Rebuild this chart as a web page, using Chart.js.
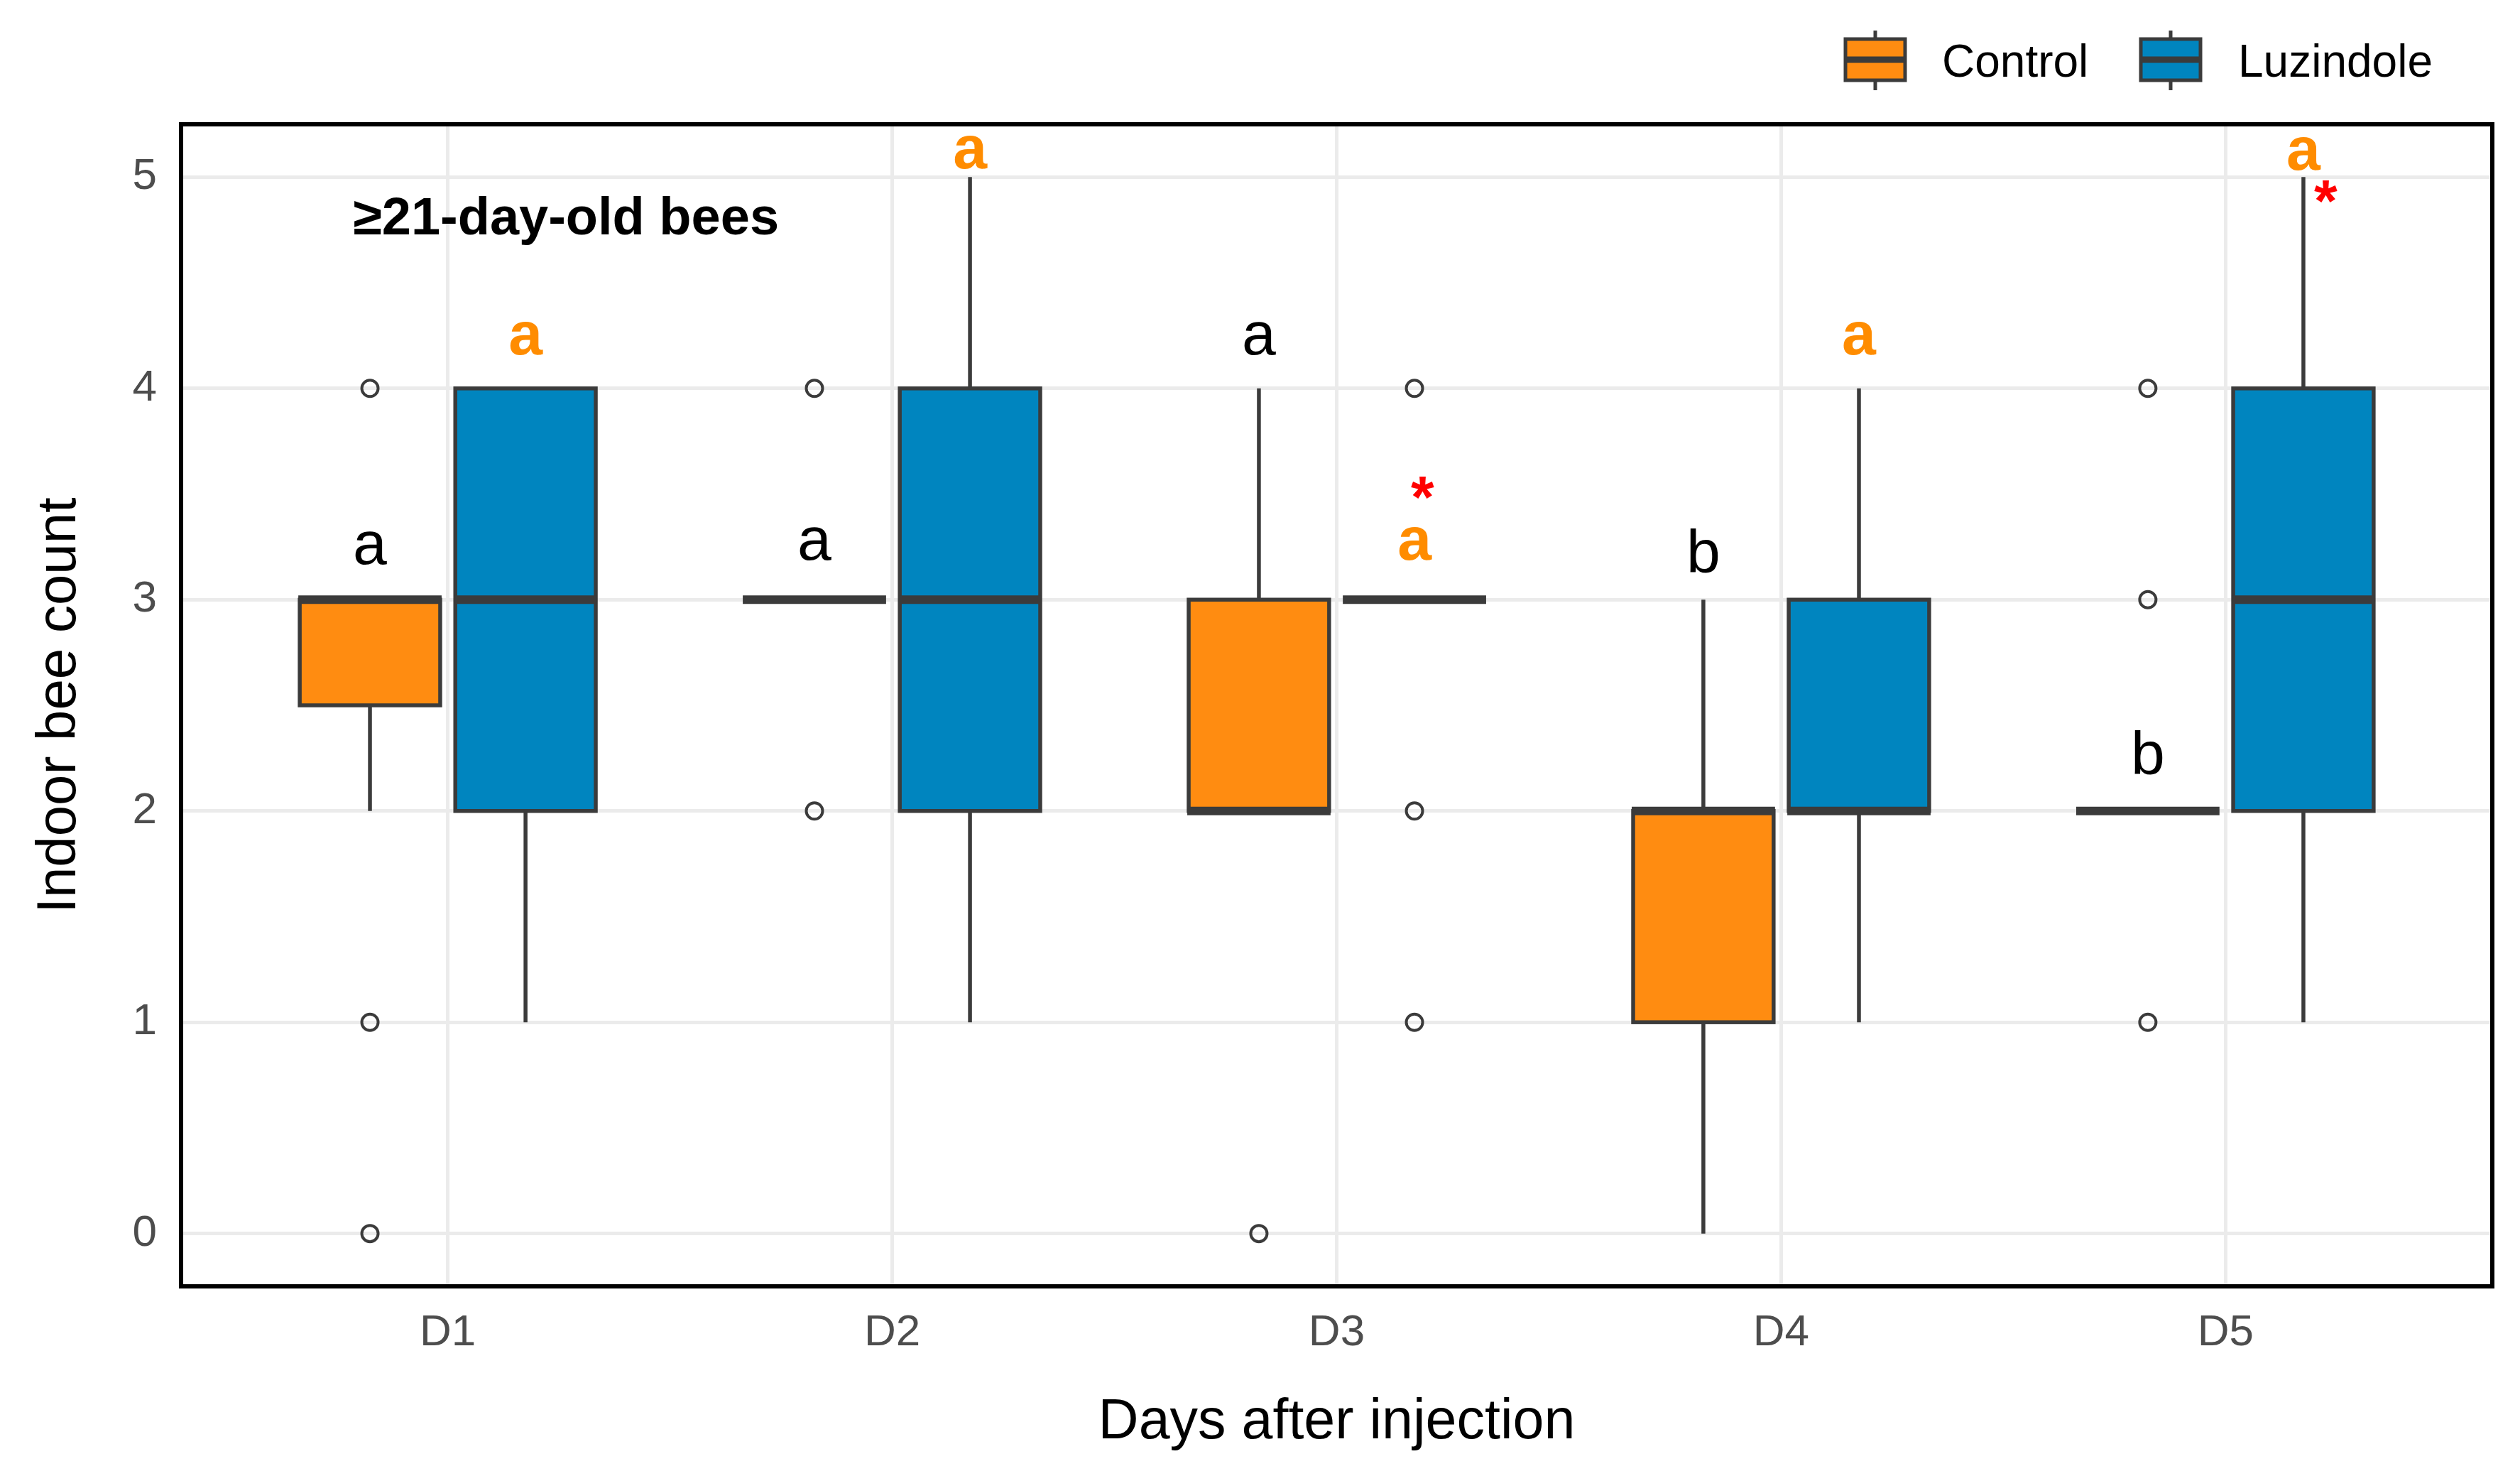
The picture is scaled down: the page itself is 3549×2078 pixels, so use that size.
<!DOCTYPE html>
<html>
<head>
<meta charset="utf-8">
<script src="https://cdn.jsdelivr.net/npm/chart.js@4.4.1/dist/chart.umd.min.js"></script>
<style>
  html, body { margin: 0; padding: 0; background: #fff; }
  #chart { display: block; }
</style>
</head>
<body>
<canvas id="chart" width="3549" height="2078"></canvas>
<script>
// categories, groups, tick labels
const days = ['D1', 'D2', 'D3', 'D4', 'D5'];
const groups = ['Control', 'Luzindole'];
const yTicks = [0, 1, 2, 3, 4, 5];

// Control: whisker low, Q1, median, Q3, whisker high, outliers
const controlLow = [2, 3, 2, 0, 2];
const controlQ1 = [2.5, 3, 2, 1, 2];
const controlMed = [3, 3, 2, 2, 2];
const controlQ3 = [3, 3, 3, 2, 2];
const controlHigh = [3, 3, 4, 3, 2];
const controlOutliers = [[4, 1, 0], [4, 2], [0], [], [4, 3, 1]];

// Luzindole
const luzLow = [1, 1, 3, 1, 1];
const luzQ1 = [2, 2, 3, 2, 2];
const luzMed = [3, 3, 3, 2, 3];
const luzQ3 = [4, 4, 3, 3, 4];
const luzHigh = [4, 5, 3, 4, 5];
const luzOutliers = [[], [], [4, 2, 1], [], []];

// significance letters (y = value at the text baseline)
const controlLetters = ['a', 'a', 'a', 'b', 'b'];
const controlLetterY = [3.17, 3.19, 4.16, 3.13, 2.175];
const luzLetters = ['a', 'a', 'a', 'a', 'a'];
const luzLetterY = [4.16, 5.04, 3.19, 4.16, 5.035];
// red asterisks (x, y of the star centre)
const starX = [3.193, 5.225];
const starY = [3.544, 4.946];

const panelTitle = '\u226521-day-old bees';

const dodge = 0.175;
const boxWidth = 0.316;
const lineCol = '#3b3b3b';
const fills = ['#FF8C11', '#0085BF'];
const fontFam = '"Liberation Sans", Arial, Helvetica, sans-serif';

Chart.defaults.font.family = fontFam;

function outlierPoints(list, off) {
    const pts = [];
    list.forEach((vals, i) => {
        vals.forEach(v => pts.push({ x: i + 1 + off, y: v }));
    });
    return pts;
}

const stats = [
    { low: controlLow, q1: controlQ1, med: controlMed, q3: controlQ3, high: controlHigh, off: -dodge },
    { low: luzLow, q1: luzQ1, med: luzMed, q3: luzQ3, high: luzHigh, off: dodge }
];

// Draw boxes and whiskers with the chart scales
const boxPlugin = {
    id: 'boxes',
    beforeDatasetsDraw(chart) {
        const ctx = chart.ctx;
        const xs = chart.scales.x, ys = chart.scales.y;
        ctx.save();
        stats.forEach((s, g) => {
            days.forEach((d, i) => {
                const c = i + 1 + s.off;
                const cx = xs.getPixelForValue(c);
                const x0 = xs.getPixelForValue(c - boxWidth / 2);
                const x1 = xs.getPixelForValue(c + boxWidth / 2);
                const yLow = ys.getPixelForValue(s.low[i]);
                const yQ1 = ys.getPixelForValue(s.q1[i]);
                const yMed = ys.getPixelForValue(s.med[i]);
                const yQ3 = ys.getPixelForValue(s.q3[i]);
                const yHigh = ys.getPixelForValue(s.high[i]);
                ctx.strokeStyle = lineCol;
                ctx.lineWidth = 5.5;
                ctx.lineCap = 'butt';
                ctx.beginPath();
                ctx.moveTo(cx, yLow); ctx.lineTo(cx, yQ1);
                ctx.moveTo(cx, yQ3); ctx.lineTo(cx, yHigh);
                ctx.stroke();
                ctx.fillStyle = fills[g];
                ctx.fillRect(x0, yQ3, x1 - x0, yQ1 - yQ3);
                ctx.strokeRect(x0, yQ3, x1 - x0, yQ1 - yQ3);
                ctx.lineWidth = 12;
                ctx.beginPath();
                ctx.moveTo(x0 - 2, yMed); ctx.lineTo(x1 + 2, yMed);
                ctx.stroke();
            });
        });
        ctx.restore();
    },
    afterDatasetsDraw(chart) {
        const ctx = chart.ctx;
        const xs = chart.scales.x, ys = chart.scales.y;
        const a = chart.chartArea;
        ctx.save();
        // letters
        ctx.textAlign = 'center';
        ctx.textBaseline = 'alphabetic';
        ctx.font = '86px ' + fontFam;
        ctx.fillStyle = '#000';
        controlLetters.forEach((t, i) => {
            ctx.fillText(t, xs.getPixelForValue(i + 1 - dodge), ys.getPixelForValue(controlLetterY[i]));
        });
        ctx.font = 'bold 86px ' + fontFam;
        ctx.fillStyle = '#FF8C00';
        luzLetters.forEach((t, i) => {
            ctx.fillText(t, xs.getPixelForValue(i + 1 + dodge), ys.getPixelForValue(luzLetterY[i]));
        });
        ctx.fillStyle = '#FF0000';
        ctx.font = 'bold 84px ' + fontFam;
        starX.forEach((x, i) => {
            ctx.fillText('*', xs.getPixelForValue(x), ys.getPixelForValue(starY[i]) + 84 * 0.56);
        });
        // panel title
        ctx.fillStyle = '#000';
        ctx.font = 'bold 74px ' + fontFam;
        ctx.fillText(panelTitle, xs.getPixelForValue(1.266), ys.getPixelForValue(4.73));
        // panel border
        ctx.strokeStyle = '#000';
        ctx.lineWidth = 6;
        ctx.strokeRect(a.left, a.top, a.right - a.left, a.bottom - a.top);
        ctx.restore();
    },
    afterDraw(chart) {
        // legend with box-plot keys
        const ctx = chart.ctx;
        const keyX = [2599, 3015];
        const textX = [2735, 3152];
        ctx.save();
        groups.forEach((g, k) => {
            const x0 = keyX[k], w = 84, top = 55, bot = 113;
            const cx = x0 + w / 2;
            ctx.strokeStyle = lineCol;
            ctx.lineWidth = 5;
            ctx.beginPath();
            ctx.moveTo(cx, 43); ctx.lineTo(cx, top);
            ctx.moveTo(cx, bot); ctx.lineTo(cx, 127);
            ctx.stroke();
            ctx.fillStyle = fills[k];
            ctx.fillRect(x0, top, w, bot - top);
            ctx.strokeRect(x0, top, w, bot - top);
            ctx.lineWidth = 9;
            ctx.beginPath();
            ctx.moveTo(x0, (top + bot) / 2); ctx.lineTo(x0 + w, (top + bot) / 2);
            ctx.stroke();
            ctx.fillStyle = '#000';
            ctx.font = '64px ' + fontFam;
            ctx.textAlign = 'left';
            ctx.textBaseline = 'alphabetic';
            ctx.fillText(g, textX[k], 108);
        });
        ctx.restore();
    }
};

const ctx = document.getElementById('chart').getContext('2d');
const chart = new Chart(ctx, {
    type: 'scatter',
    data: {
        datasets: [
            {
                label: groups[0],
                data: outlierPoints(controlOutliers, -dodge),
                pointRadius: 11.5,
                pointBorderWidth: 4,
                pointBorderColor: lineCol,
                pointBackgroundColor: 'rgba(255,255,255,0)'
            },
            {
                label: groups[1],
                data: outlierPoints(luzOutliers, dodge),
                pointRadius: 11.5,
                pointBorderWidth: 4,
                pointBorderColor: lineCol,
                pointBackgroundColor: 'rgba(255,255,255,0)'
            }
        ]
    },
    options: {
        responsive: false,
        animation: false,
        devicePixelRatio: 1,
        layout: { padding: { top: 175, right: 39, left: 0, bottom: 0 } },
        plugins: {
            legend: { display: false },
            tooltip: { enabled: false }
        },
        scales: {
            x: {
                type: 'linear',
                min: 0.4,
                max: 5.6,
                afterFit: s => { s.height = 2078 - 1811; },
                afterBuildTicks: s => { s.ticks = days.map((d, i) => ({ value: i + 1 })); },
                grid: { color: '#ebebeb', lineWidth: 5, drawTicks: false },
                border: { display: false },
                ticks: {
                    padding: 29,
                    color: '#4d4d4d',
                    font: { size: 62 },
                    callback: v => days[v - 1]
                },
                title: {
                    display: true,
                    text: 'Days after injection',
                    color: '#000',
                    font: { size: 79 },
                    padding: { top: 0, bottom: 27 }
                }
            },
            y: {
                min: -0.25,
                max: 5.25,
                afterFit: s => { s.width = 255; },
                afterBuildTicks: s => { s.ticks = yTicks.map(v => ({ value: v })); },
                grid: { color: '#ebebeb', lineWidth: 5, drawTicks: false },
                border: { display: false },
                ticks: {
                    padding: 34,
                    color: '#4d4d4d',
                    font: { size: 62 }
                },
                title: {
                    display: true,
                    text: 'Indoor bee count',
                    color: '#000',
                    font: { size: 78 },
                    padding: { top: 38, bottom: 0 }
                }
            }
        }
    },
    plugins: [boxPlugin]
});
</script>
</body>
</html>
